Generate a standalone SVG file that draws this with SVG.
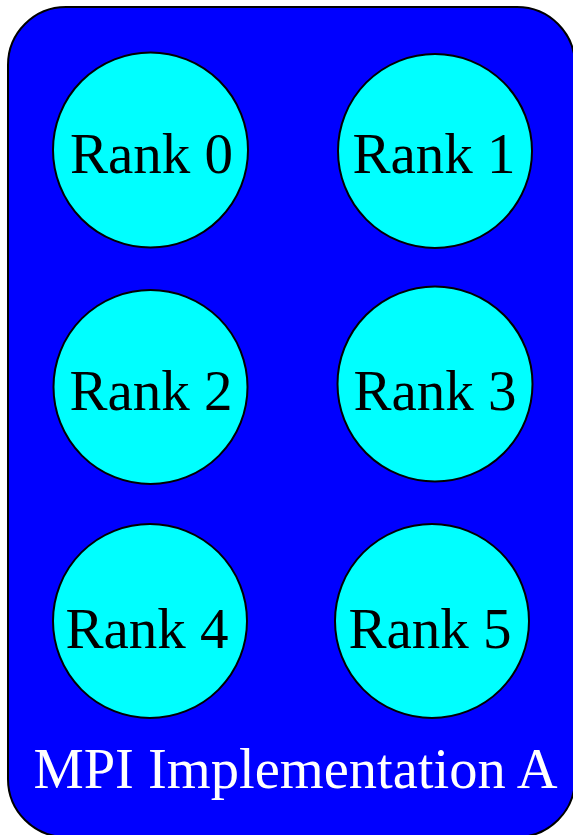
<svg xmlns="http://www.w3.org/2000/svg" width="573" height="835" viewBox="0 0 573 835">
<style>
.rank circle{fill:#00ffff;stroke:#000;stroke-width:2}
.rank text{font-family:"Liberation Serif","Times New Roman",serif;font-size:57px;fill:#000;text-anchor:middle}
.lbl{font-family:"Liberation Serif","Times New Roman",serif;font-size:56.5px;fill:#fff;text-anchor:middle}
</style>
<rect width="573" height="835" fill="#fff"/>
<g id="implA">
<rect x="8" y="7" width="567" height="830" rx="58" ry="58" fill="#0000ff" stroke="#000" stroke-width="2"/>
<text class="lbl" x="295.5" y="788">MPI Implementation A</text>
</g>
<g id="connectors"></g>
<g id="rank0" class="rank"><circle cx="150.5" cy="150" r="97.5"/><text x="151.5" y="173">Rank 0</text></g>
<g id="rank1" class="rank"><circle cx="435" cy="151" r="97"/><text x="434" y="173">Rank 1</text></g>
<g id="rank2" class="rank"><circle cx="150.5" cy="387" r="97"/><text x="151" y="410">Rank 2</text></g>
<g id="rank3" class="rank"><circle cx="435" cy="384" r="97.5"/><text x="435" y="410">Rank 3</text></g>
<g id="rank4" class="rank"><circle cx="150" cy="621" r="97"/><text x="147" y="648">Rank 4</text></g>
<g id="rank5" class="rank"><circle cx="432" cy="621" r="97"/><text x="430" y="648">Rank 5</text></g>
</svg>
